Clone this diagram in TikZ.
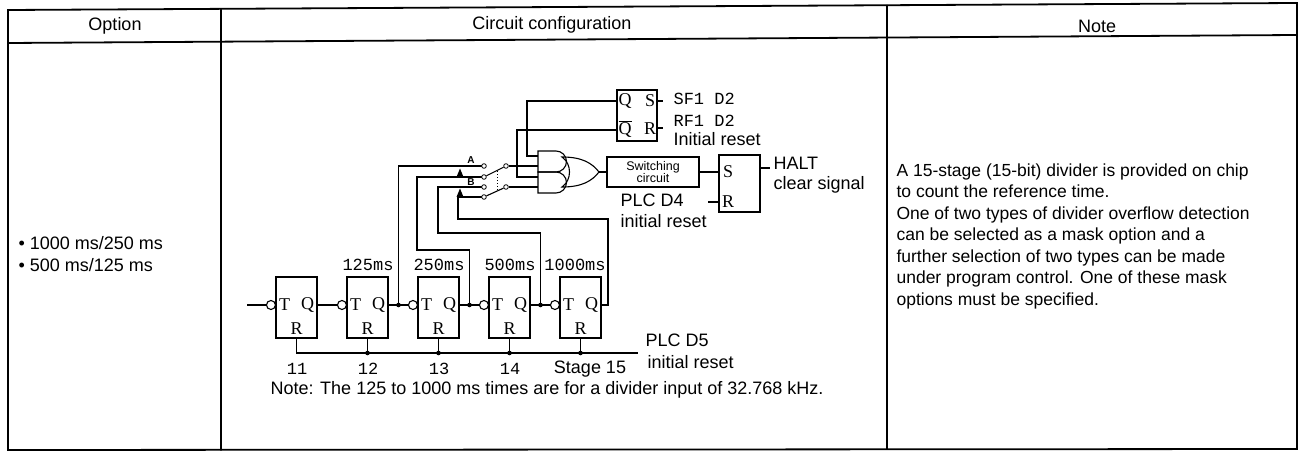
\documentclass[tikz,border=0pt]{standalone}
\usepackage{fontspec}
\setmainfont{Liberation Sans}
\newfontfamily\monof{Liberation Mono}
\newfontfamily\seriff{Liberation Serif}
\usetikzlibrary{calc}
\begin{document}
\begin{tikzpicture}[x=1pt,y=-1pt,line width=1.1pt,
  frame/.style={line width=1.8pt,line cap=round},
  txt/.style={inner sep=0pt,font=\fontsize{18}{22}\selectfont},
  mono/.style={inner sep=0pt,font=\fontsize{17}{20}\monof},
  lett/.style={inner sep=0pt,font=\fontsize{18}{20}\seriff},
  ffbox/.style={draw,minimum width=41pt,minimum height=61pt,inner sep=0pt},
  bubble/.style={draw,circle,minimum size=9pt,inner sep=0pt},
  contact/.style={draw,circle,fill=white,minimum size=4.6pt,inner sep=0pt,line width=0.8pt},
  jdot/.style={fill,circle,minimum size=4.6pt,inner sep=0pt},
  smallab/.style={inner sep=0pt,font=\fontsize{10}{10}\selectfont\bfseries}]
\useasboundingbox (0,0) rectangle (1305,454);
% table frame (slightly tilted scan)
\coordinate (tl) at (8,10);
\coordinate (tr) at (1297,3);
\coordinate (bl) at (8,450);
\coordinate (br) at (1297,449);
\draw[frame] (tl) -- (tr) -- (br) -- (bl) -- cycle;
\draw[frame] (8,43) -- (1297,35);
\draw[frame] (221,9.5) -- (221,450);
\draw[frame] (887,5.5) -- (887,449);
\node[txt] (hopt) at (115,26) {Option};
\node[txt] (hcir) at (552,25) {Circuit configuration};
\node[txt] (hnote) at (1097,26) {Note};
% option column
\node[txt,anchor=west] (o1) at (18,243) {• 1000 ms/250 ms};
\node[txt,anchor=west] (o2) at (18,265) {• 500 ms/125 ms};
% note column
\node[txt,anchor=north west,align=left,font=\fontsize{17.5}{21.5}\selectfont] (note) at (896,163) {A 15-stage (15-bit) divider is provided on chip\\to count the reference time.\\One of two types of divider overflow detection\\can be selected as a mask option and a\\further selection of two types can be made\\under program control. One of these mask\\options must be specified.};
% flip-flops
\foreach \i/\x in {1/296.5,2/367.5,3/438.5,4/509.5,5/580.5}{
  \node[ffbox] (ff\i) at (\x,307.5) {};
  \node[lett,anchor=west] (t\i) at ($(ff\i.west)+(3,-2.5)$) {T};
  \node[lett,anchor=east] (qq\i) at ($(ff\i.east)+(-3,-2.5)$) {Q};
  \node[lett] (r\i) at ($(ff\i.south)+(0,-10)$) {R};
  \node[bubble] (b\i) at ($(ff\i.west)+(-4.5,-2.5)$) {};
  \coordinate (q\i) at ($(ff\i.east)+(0,-2.5)$);
}
\coordinate (inp) at (247,305);
\draw (inp) -- (b1.west);
\draw (q1) -- (b2.west);
\draw (q2) -- (b3.west);
\draw (q3) -- (b4.west);
\draw (q4) -- (b5.west);
\node[jdot] (d2) at (398.5,305) {};
\node[jdot] (d3) at (469.5,305) {};
\node[jdot] (d4) at (540.5,305) {};
\node[mono] (l125) at (368,265) {125ms};
\node[mono] (l250) at (439,265) {250ms};
\node[mono] (l500) at (510,265) {500ms};
\node[mono] (l1000) at (575,265) {1000ms};
% switch contacts
\coordinate (c1000a) at (608,305);
\coordinate (c1000b) at (458,219);
\coordinate (c250) at (417,250);
\coordinate (c500) at (438,233);
\draw (d2.center) |- (484,166);
\draw (d3.center) |- (c250) |- (484,177);
\draw (d4.center) |- (c500) |- (484,187);
\draw (q5) -- (c1000a) |- (c1000b) |- (484,197);
\node[contact] (ca1) at (484,166) {};
\node[contact] (cb1) at (484,177) {};
\node[contact] (ca2) at (484,187) {};
\node[contact] (cb2) at (484,197) {};
\node[contact] (p1) at (506,166) {};
\node[contact] (p2) at (506,187) {};
\fill (456.5,177) -- (463.5,177) -- (460,168.5) -- cycle;
\fill (456.5,197) -- (463.5,197) -- (460,188.5) -- cycle;
\node[smallab] (la) at (471,160) {A};
\node[smallab] (lb) at (471,182) {B};
\draw (p1) -- (cb1);
\draw (p2) -- (cb2);
\draw[dotted,line width=0.9pt] (497,171.5) -- (497,191.5);
% AND gates
\draw (538,151) -- (556,151) arc(-90:90:10.5) -- (538,172) -- cycle;
\draw (538,172) -- (556,172) arc(-90:90:10.5) -- (538,193) -- cycle;
\coordinate (a1i1) at (538,156);
\coordinate (a1i2) at (538,166);
\coordinate (a2i1) at (538,177);
\coordinate (a2i2) at (538,187);
\draw (p1) -- (a1i2);
\draw (p2) -- (a2i2);
% OR gate
\draw (562,157) .. controls (572,164) and (572,180) .. (562,187)
      .. controls (582,187) and (592,181) .. (599,172)
      .. controls (592,163) and (582,157) .. (562,157) -- cycle;
\coordinate (oro) at (599,172);
% switching circuit
\node[draw,minimum width=92pt,minimum height=30pt,inner sep=0pt,align=center,font=\fontsize{12.5}{12.5}\selectfont] (sw) at (653,172) {Switching\\circuit};
\draw (oro) -- (sw.west);
% SR flip-flop HALT
\node[draw,minimum width=41pt,minimum height=57pt,inner sep=0pt] (sr) at (739.5,183.5) {};
\node[lett] (srs) at (728,172) {S};
\node[lett] (srr) at (728,202) {R};
\draw (sw.east) -- (sw.east -| sr.west);
\coordinate (rin) at (708,202);
\draw (rin) -- (rin -| sr.west);
\coordinate (haltend) at (770,168);
\draw (sr.east |- haltend) -- (haltend);
\node[txt,anchor=west] (halt) at (773,163) {HALT};
\node[txt,anchor=west] (clr) at (773,185) {clear signal};
\node[txt,anchor=west] (plc4) at (620,200) {PLC D4};
\node[txt,anchor=west] (ir4) at (620,221) {initial reset};
% QS flip-flop
\node[draw,minimum width=40pt,minimum height=51pt,inner sep=0pt] (qs) at (637,115.5) {};
\node[lett] (qsq) at (625,101) {Q};
\node[lett] (qss) at (650,101) {S};
\node[lett] (qsqb) at (625,129) {$\overline{\mbox{\seriff Q}}$};
\node[lett] (qsr) at (650,129) {R};
\coordinate (qo) at (617,101);
\coordinate (qbo) at (617,130);
\draw (qo) -| (527,156) -- (a1i1);
\draw (qbo) -| (517,177) -- (a2i1);
\coordinate (so) at (663,101);
\coordinate (ro) at (663,128);
\draw (qs.east |- so) -- (so);
\draw (qs.east |- ro) -- (ro);
\node[mono,anchor=west] (sf1) at (673,99) {SF1 D2};
\node[mono,anchor=west] (rf1) at (673,121) {RF1 D2};
\node[txt,anchor=west] (ir1) at (673,139) {Initial reset};
% reset bus
\coordinate (busend) at (638,353);
\draw (ff1.south) |- (busend);
\foreach \i in {2,...,5}{
  \draw (ff\i.south) -- (ff\i.south |- busend);
  \node[jdot] (bd\i) at (ff\i.south |- busend) {};
}
\node[mono] (s11) at (297,369) {11};
\node[mono] (s12) at (368,369) {12};
\node[mono] (s13) at (439,369) {13};
\node[mono] (s14) at (510,369) {14};
\node[txt] (s15) at (590,369) {Stage 15};
\node[txt,anchor=west] (plc5) at (645,340) {PLC D5};
\node[txt,anchor=west] (ir5) at (647,362) {initial reset};
\node[txt,anchor=west] (cnote) at (270,390) {Note: The 125 to 1000 ms times are for a divider input of 32.768 kHz.};
\end{tikzpicture}
\end{document}
